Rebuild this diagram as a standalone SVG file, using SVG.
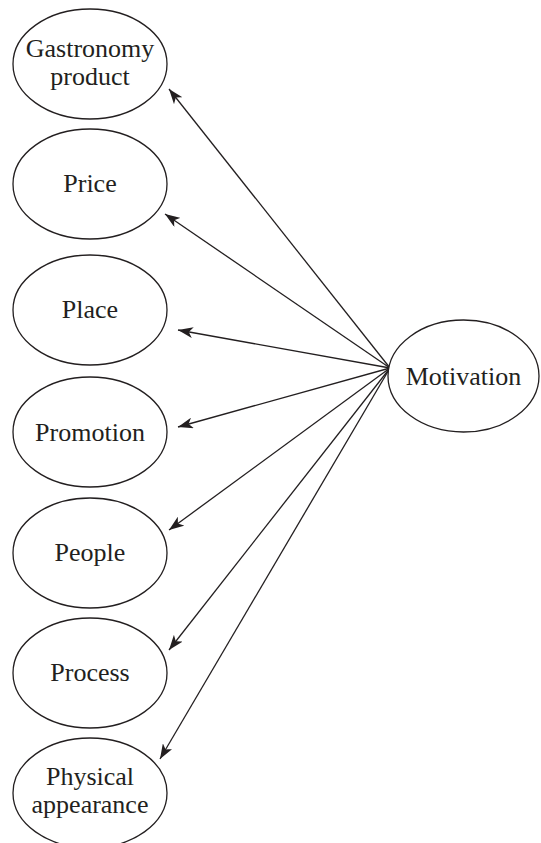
<svg xmlns="http://www.w3.org/2000/svg" width="541" height="843" viewBox="0 0 541 843">
<style>
.n{fill:#fff;stroke:#231f20;stroke-width:1.3}
.t{font-family:"Liberation Serif","Times New Roman",serif;font-size:26px;fill:#231f20;text-anchor:middle}
.c{stroke:#231f20;stroke-width:1.3;fill:none}
</style>
<defs>
<marker id="ah" markerUnits="userSpaceOnUse" markerWidth="15" markerHeight="11" viewBox="0 0 15 11" refX="15" refY="5.5" orient="auto">
<path d="M0,0 L15,5.5 L0,11 L4,5.5 Z" fill="#231f20"/>
</marker>
</defs>
<g id="connectors">
<line class="c" x1="390" y1="368" x2="169" y2="89" marker-end="url(#ah)"/>
<line class="c" x1="390" y1="368" x2="165" y2="214" marker-end="url(#ah)"/>
<line class="c" x1="390" y1="368" x2="178" y2="330" marker-end="url(#ah)"/>
<line class="c" x1="390" y1="368" x2="178" y2="427" marker-end="url(#ah)"/>
<line class="c" x1="390" y1="368" x2="169" y2="530" marker-end="url(#ah)"/>
<line class="c" x1="390" y1="368" x2="169" y2="650" marker-end="url(#ah)"/>
<line class="c" x1="390" y1="368" x2="160" y2="759" marker-end="url(#ah)"/>
</g>
<g id="gastronomy">
<ellipse class="n" cx="90" cy="64" rx="77" ry="55"/>
<text class="t" x="90" y="57">Gastronomy</text>
<text class="t" x="90" y="85">product</text>
</g>
<g id="price">
<ellipse class="n" cx="90" cy="184" rx="77" ry="55"/>
<text class="t" x="90" y="192">Price</text>
</g>
<g id="place">
<ellipse class="n" cx="90" cy="310" rx="77" ry="55"/>
<text class="t" x="90" y="318">Place</text>
</g>
<g id="promotion">
<ellipse class="n" cx="90" cy="432" rx="77" ry="55"/>
<text class="t" x="90" y="441">Promotion</text>
</g>
<g id="people">
<ellipse class="n" cx="90" cy="553" rx="77" ry="55"/>
<text class="t" x="90" y="561">People</text>
</g>
<g id="process">
<ellipse class="n" cx="90" cy="673" rx="77" ry="55"/>
<text class="t" x="90" y="681">Process</text>
</g>
<g id="physical">
<ellipse class="n" cx="90" cy="793" rx="77" ry="55"/>
<text class="t" x="90" y="785">Physical</text>
<text class="t" x="90" y="813">appearance</text>
</g>
<g id="motivation">
<ellipse class="n" cx="463.5" cy="376" rx="75.5" ry="56"/>
<text class="t" x="463.5" y="385">Motivation</text>
</g>
</svg>
